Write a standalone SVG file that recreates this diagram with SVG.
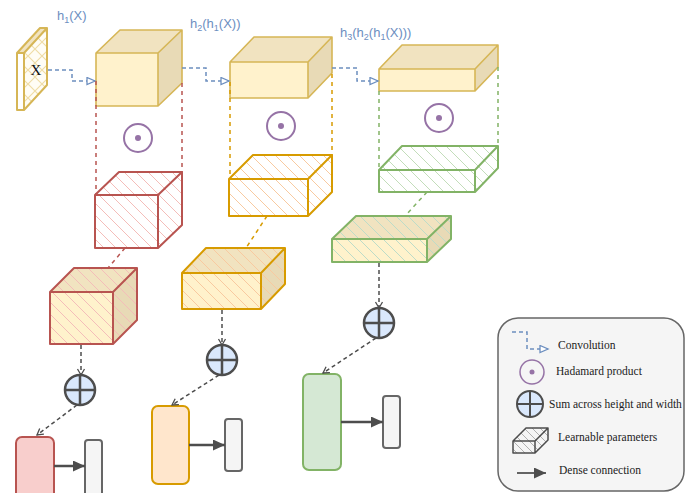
<svg xmlns="http://www.w3.org/2000/svg" width="686" height="493" viewBox="0 0 686 493">
<style>
.lbl{font-family:"Liberation Sans",Arial,sans-serif;font-size:13px;fill:#6c8ebf}
.sub{font-size:9px}
.leg{font-family:"Liberation Serif","Times New Roman",serif;font-size:11.5px;fill:#222}
.ycube .f{fill:#fff2cc}.ycube .t{fill:#f1e3c0}.ycube .s{fill:#e8dab6}
.ystroke{fill:none;stroke:#d6b656;stroke-width:1.6;stroke-linejoin:round}
.conv{fill:none;stroke:#6c8ebf;stroke-width:1.5;stroke-dasharray:4 3}
.dsh{fill:none;stroke-width:1.5;stroke-dasharray:4 4}
.blk{fill:none;stroke:#4d4d4d;stroke-width:1.5;stroke-dasharray:4 3}
.dense{fill:none;stroke:#4d4d4d;stroke-width:2.5}
.had{fill:none;stroke:#9673a6;stroke-width:2}
.sum circle{fill:#dae8fc;stroke:#4d4d4d;stroke-width:2.5}
.sum path{stroke:#4d4d4d;stroke-width:2.5;fill:none}
.edge{fill:none;stroke-width:2;stroke-linejoin:round}
</style>
<defs>
<pattern id="hR" width="12" height="12" patternUnits="userSpaceOnUse"><path d="M0,0L12,12M-2,10L2,14M10,-2L14,2" stroke="#f4bdb9" stroke-width="1"/></pattern>
<pattern id="hO" width="12" height="12" patternUnits="userSpaceOnUse"><path d="M0,0L12,12M-2,10L2,14M10,-2L14,2" stroke="#f8caa0" stroke-width="1"/></pattern>
<pattern id="hG" width="12" height="12" patternUnits="userSpaceOnUse"><path d="M0,0L12,12M-2,10L2,14M10,-2L14,2" stroke="#c3ddba" stroke-width="1"/></pattern>
<pattern id="hT" width="12" height="12" patternUnits="userSpaceOnUse"><path d="M0,0L12,12M-2,10L2,14M10,-2L14,2" stroke="#bddcc8" stroke-width="1"/></pattern>
<pattern id="hK" width="8" height="8" patternUnits="userSpaceOnUse"><path d="M0,0L8,8M-2,6L2,10M6,-2L10,2" stroke="#b0b0b0" stroke-width="1"/></pattern>
<pattern id="xY" width="14" height="14" patternUnits="userSpaceOnUse"><path d="M0,0L14,14M14,0L0,14" stroke="#efdca6" stroke-width="1.2"/></pattern>
<marker id="mConv" markerUnits="userSpaceOnUse" markerWidth="12" markerHeight="10" refX="9" refY="4.5" orient="auto"><path d="M1,1L9,4.5L1,8Z" fill="#fff" stroke="#6c8ebf" stroke-width="1.3"/></marker>
<marker id="mOpen" markerUnits="userSpaceOnUse" markerWidth="12" markerHeight="12" refX="7" refY="4.5" orient="auto"><path d="M1,1L7,4.5L1,8" fill="none" stroke="#4d4d4d" stroke-width="1.3"/></marker>
<marker id="mFill" markerUnits="userSpaceOnUse" markerWidth="14" markerHeight="12" refX="12" refY="5.5" orient="auto"><path d="M0,0L12,5.5L0,11Z" fill="#4d4d4d"/></marker>
</defs>

<g id="input-x">
<path d="M17,53h7v57h-7Z" fill="#fff"/>
<path d="M17,53L40,28L47,28L24,53Z" fill="#f1e3c0"/>
<path d="M24,53L47,28L47,85L24,110Z" fill="#fffdf5"/>
<path d="M24,53L47,28L47,85L24,110Z" fill="url(#xY)"/>
<path d="M17,110L17,53L40,28L47,28L47,85L24,110ZM17,53H24L47,28M24,53V110" fill="none" stroke="#d6b656" stroke-width="2" stroke-linejoin="round"/>
<text x="36" y="75" text-anchor="middle" font-family="'Liberation Serif',serif" font-size="15" fill="#111">X</text>
</g>

<g id="h1" class="ycube">
<path class="f" d="M96,53h62v53h-62Z"/><path class="t" d="M96,53L120,30L182,30L158,53Z"/><path class="s" d="M158,53L182,30L182,83L158,106Z"/>
<path class="ystroke" d="M96,106L96,53L120,30L182,30L182,83L158,106ZM96,53H158L182,30M158,53V106"/>
</g>
<g id="h2" class="ycube">
<path class="f" d="M230,62h78v36h-78Z"/><path class="t" d="M230,62L254,37L332,37L308,62Z"/><path class="s" d="M308,62L332,37L332,73L308,98Z"/>
<path class="ystroke" d="M230,98L230,62L254,37L332,37L332,73L308,98ZM230,62H308L332,37M308,62V98"/>
</g>
<g id="h3" class="ycube">
<path class="f" d="M379,69h96v22h-96Z"/><path class="t" d="M379,69L402,45L498,45L475,69Z"/><path class="s" d="M475,69L498,45L498,67L475,91Z"/>
<path class="ystroke" d="M379,91L379,69L402,45L498,45L498,67L475,91ZM379,69H475L498,45M475,69V91"/>
</g>

<g id="labels">
<text class="lbl" x="57" y="20">h<tspan class="sub" dy="3">1</tspan><tspan dy="-3">(X)</tspan></text>
<text class="lbl" x="190" y="28">h<tspan class="sub" dy="3">2</tspan><tspan dy="-3">(h</tspan><tspan class="sub" dy="3">1</tspan><tspan dy="-3">(X))</tspan></text>
<text class="lbl" x="340" y="37">h<tspan class="sub" dy="3">3</tspan><tspan dy="-3">(h</tspan><tspan class="sub" dy="3">2</tspan><tspan dy="-3">(h</tspan><tspan class="sub" dy="3">1</tspan><tspan dy="-3">(X)))</tspan></text>
</g>

<g id="hadamard-1"><circle class="had" cx="138" cy="138" r="14"/><circle cx="138" cy="138" r="3" fill="#9673a6"/></g>
<g id="hadamard-2"><circle class="had" cx="281" cy="126" r="14"/><circle cx="281" cy="126" r="3" fill="#9673a6"/></g>
<g id="hadamard-3"><circle class="had" cx="439" cy="118" r="14"/><circle cx="439" cy="118" r="3" fill="#9673a6"/></g>

<g id="param-red">
<path d="M95,248L95,195L119,172L182,172L182,225L158,248Z" fill="#fff"/>
<path d="M95,248L95,195L119,172L182,172L182,225L158,248Z" fill="url(#hR)"/>
<path class="edge" stroke="#b85450" d="M95,248L95,195L119,172L182,172L182,225L158,248ZM95,195H158L182,172M158,195V248"/>
</g>
<g id="param-orange">
<path d="M229,216L229,179L253,155L332,155L332,192L308,216Z" fill="#fff"/>
<path d="M229,216L229,179L253,155L332,155L332,192L308,216Z" fill="url(#hO)"/>
<path class="edge" stroke="#d79b00" d="M229,216L229,179L253,155L332,155L332,192L308,216ZM229,179H308L332,155M308,179V216"/>
</g>
<g id="param-green">
<path d="M379,192L379,170L402,146L498,146L498,168L475,192Z" fill="#fff"/>
<path d="M379,192L379,170L402,146L498,146L498,168L475,192Z" fill="url(#hG)"/>
<path class="edge" stroke="#82b366" d="M379,192L379,170L402,146L498,146L498,168L475,192ZM379,170H475L498,146M475,170V192"/>
</g>

<g id="prod-red" class="ycube">
<path class="f" d="M50,292h63v52h-63Z"/><path class="t" d="M50,292L74,268L137,268L113,292Z"/><path class="s" d="M113,292L137,268L137,320L113,344Z"/>
<path d="M50,344L50,292L74,268L137,268L137,320L113,344Z" fill="url(#hR)"/>
<path class="edge" stroke="#b85450" d="M50,344L50,292L74,268L137,268L137,320L113,344ZM50,292H113L137,268M113,292V344"/>
</g>
<g id="prod-orange" class="ycube">
<path class="f" d="M182,273h79v36h-79Z"/><path class="t" d="M182,273L206,248L285,248L261,273Z"/><path class="s" d="M261,273L285,248L285,284L261,309Z"/>
<path d="M182,309L182,273L206,248L285,248L285,284L261,309Z" fill="url(#hO)"/>
<path class="edge" stroke="#d79b00" d="M182,309L182,273L206,248L285,248L285,284L261,309ZM182,273H261L285,248M261,273V309"/>
</g>
<g id="prod-green" class="ycube">
<path class="f" d="M332,239h95v23h-95Z"/><path class="t" d="M332,239L356,216L451,216L427,239Z"/><path class="s" d="M427,239L451,216L451,239L427,262Z"/>
<path d="M332,262L332,239L356,216L451,216L451,239L427,262Z" fill="url(#hT)"/>
<path class="edge" stroke="#82b366" d="M332,262L332,239L356,216L451,216L451,239L427,262ZM332,239H427L451,216M427,239V262"/>
</g>

<g id="sum-1" class="sum"><circle cx="80" cy="390" r="15"/><path d="M65,390H95M80,375V405"/></g>
<g id="sum-2" class="sum"><circle cx="222" cy="360" r="15"/><path d="M207,360H237M222,345V375"/></g>
<g id="sum-3" class="sum"><circle cx="379" cy="323" r="15"/><path d="M364,323H394M379,308V338"/></g>

<g id="feat-red"><rect x="16" y="437" width="38" height="64" rx="6" fill="#f8cecc" stroke="#b85450" stroke-width="2"/></g>
<g id="feat-orange"><rect x="152" y="406" width="37" height="78" rx="6" fill="#ffe6cc" stroke="#d79b00" stroke-width="2"/></g>
<g id="feat-green"><rect x="303" y="374" width="38" height="96" rx="6" fill="#d5e8d4" stroke="#82b366" stroke-width="2"/></g>
<g id="out-1"><rect x="85" y="440" width="17" height="60" rx="3" fill="#f5f5f5" stroke="#666" stroke-width="2"/></g>
<g id="out-2"><rect x="225" y="419" width="17" height="52" rx="3" fill="#f5f5f5" stroke="#666" stroke-width="2"/></g>
<g id="out-3"><rect x="383" y="396" width="17" height="52" rx="3" fill="#f5f5f5" stroke="#666" stroke-width="2"/></g>

<g id="connectors">
<path class="conv" d="M48,70H72V81H95" marker-end="url(#mConv)"/>
<path class="conv" d="M182,68H206V81H229" marker-end="url(#mConv)"/>
<path class="conv" d="M332,68H357V81H378" marker-end="url(#mConv)"/>
<path class="dsh" stroke="#b85450" d="M96,81V195M182,83V172M125,248L108,268"/>
<path class="dsh" stroke="#d79b00" d="M230,82V179M332,74V155M267,216L246,248"/>
<path class="dsh" stroke="#82b366" d="M379,91V170M498,67V146M427,192L405,216"/>
<path class="blk" d="M81,345V375" marker-end="url(#mOpen)"/>
<path class="blk" d="M222,310V345" marker-end="url(#mOpen)"/>
<path class="blk" d="M379,263V308" marker-end="url(#mOpen)"/>
<path class="blk" d="M77,405L37,435" marker-end="url(#mOpen)"/>
<path class="blk" d="M219,375L172,405" marker-end="url(#mOpen)"/>
<path class="blk" d="M376,338L323,373" marker-end="url(#mOpen)"/>
<path class="dense" d="M54,466H85" marker-end="url(#mFill)"/>
<path class="dense" d="M189,445H225" marker-end="url(#mFill)"/>
<path class="dense" d="M341,422H383" marker-end="url(#mFill)"/>
</g>

<g id="legend">
<rect x="498" y="318" width="186" height="173" rx="20" fill="#f5f5f5" stroke="#666" stroke-width="1.5"/>
<path class="conv" d="M512,332H527V349H548" marker-end="url(#mConv)"/>
<text class="leg" x="558" y="349">Convolution</text>
<circle cx="532" cy="372" r="12" fill="none" stroke="#9673a6" stroke-width="1.5"/><circle cx="532" cy="372" r="2.5" fill="#9673a6"/>
<text class="leg" x="556" y="375">Hadamard product</text>
<g class="sum"><circle cx="530" cy="404" r="13" style="stroke-width:2"/><path d="M517,404H543M530,391V417" style="stroke-width:2"/></g>
<text class="leg" x="549" y="408">Sum across height and width</text>
<path d="M513,453L513,441L526,428L548,428L548,440L535,453Z" fill="#f5f5f5"/>
<path d="M513,453L513,441L526,428L548,428L548,440L535,453Z" fill="url(#hK)"/>
<path d="M513,453L513,441L526,428L548,428L548,440L535,453ZM513,441H535L548,428M535,441V453" fill="none" stroke="#4d4d4d" stroke-width="1.5" stroke-linejoin="round"/>
<text class="leg" x="558" y="441">Learnable parameters</text>
<path d="M517,473H546" fill="none" stroke="#333" stroke-width="1.5" marker-end="url(#mFill)"/>
<text class="leg" x="559" y="474">Dense connection</text>
</g>
</svg>
